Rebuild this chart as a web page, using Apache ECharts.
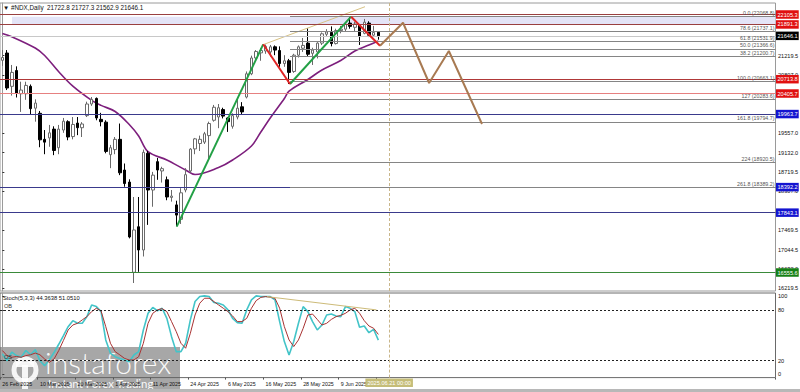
<!DOCTYPE html>
<html><head><meta charset="utf-8">
<script src="https://cdn.jsdelivr.net/npm/echarts@6/dist/echarts.min.js"></script>
<style>html,body{margin:0;padding:0;background:#fff;overflow:hidden}#c{width:800px;height:392px}</style>
</head><body><div id="c"></div>
<script>
// ---------- DATA ----------
const dates = ['26 Feb 2025','27 Feb 2025','28 Feb 2025','3 Mar 2025','4 Mar 2025','5 Mar 2025','6 Mar 2025','7 Mar 2025','10 Mar 2025','11 Mar 2025','12 Mar 2025','13 Mar 2025','14 Mar 2025','17 Mar 2025','18 Mar 2025','19 Mar 2025','20 Mar 2025','21 Mar 2025','24 Mar 2025','25 Mar 2025','26 Mar 2025','27 Mar 2025','28 Mar 2025','31 Mar 2025','1 Apr 2025','2 Apr 2025','3 Apr 2025','4 Apr 2025','7 Apr 2025','8 Apr 2025','9 Apr 2025','10 Apr 2025','11 Apr 2025','14 Apr 2025','15 Apr 2025','16 Apr 2025','17 Apr 2025','21 Apr 2025','22 Apr 2025','23 Apr 2025','24 Apr 2025','25 Apr 2025','28 Apr 2025','29 Apr 2025','30 Apr 2025','1 May 2025','2 May 2025','5 May 2025','6 May 2025','7 May 2025','8 May 2025','9 May 2025','12 May 2025','13 May 2025','14 May 2025','15 May 2025','16 May 2025','19 May 2025','20 May 2025','21 May 2025','22 May 2025','23 May 2025','26 May 2025','27 May 2025','28 May 2025','29 May 2025','30 May 2025','2 Jun 2025','3 Jun 2025','4 Jun 2025','5 Jun 2025','6 Jun 2025','9 Jun 2025','10 Jun 2025','11 Jun 2025','12 Jun 2025','13 Jun 2025','16 Jun 2025','17 Jun 2025','18 Jun 2025','20 Jun 2025'];
const openV  = [21120,21277,20560,20900,20400,20400,20560,20090,19980,19420,19450,19640,19240,19620,19800,19480,19770,19670,19930,20180,20300,19850,19790,19090,19200,19420,18760,18500,16560,17540,17040,19120,18330,18940,18740,18550,18170,18010,17700,18330,18740,19214,19330,19360,19500,19830,19900,20060,19880,19700,19900,20120,20330,20830,21170,21280,21320,21300,21410,21330,21050,21110,20880,21230,21380,21490,21270,21300,21490,21680,21720,21480,21760,21790,21920,21830,21880,21700,21920,21660,21722.8];
const highV  = [21340,21340,21020,20990,20660,20660,20600,20280,20030,19620,19730,19700,19730,19880,19830,19900,19900,19790,20230,20330,20320,19990,19830,19300,19470,19760,18900,18560,18180,18180,19200,19170,18720,19020,18830,18620,18330,18100,18370,18800,19230,19450,19500,19580,19800,20160,20180,20100,19900,19980,20270,20220,20880,21220,21340,21380,21460,21450,21440,21420,21230,21150,21260,21440,21600,21810,21390,21510,21720,21790,21850,21800,21860,21930,22068.8,21950,21900,22010,21960,21860,21727.3];
const lowV   = [21000,20480,20360,20320,20010,20270,19960,19800,19250,19100,19260,19080,19100,19560,19400,19420,19510,19470,19900,20140,19830,19700,19120,18800,19100,18650,18400,17290,16330,16570,16900,17580,17970,18550,18490,18110,18080,17550,17600,18280,18700,19100,19170,19320,19000,19800,19660,19870,19580,19650,19850,19950,20300,20800,21120,21110,21260,21200,21230,20980,20980,20610,20850,21180,21300,21200,21020,21160,21450,21640,21420,21460,21700,21740,21800,21740,21450,21680,21620,21620,21562.9];
const closeV = [21180,20524,20860,20410,20480,20580,20080,20200,19410,19360,19560,19180,19640,19810,19470,19740,19670,19750,20180,20280,19880,19800,19160,19240,19420,18700,18470,17320,17470,17040,19140,18330,18650,18760,18790,18180,18200,17790,18270,18660,19210,19430,19420,19540,19760,20110,20100,19920,19800,19930,20090,20010,20830,21170,21310,21330,21420,21410,21340,21050,21110,20860,21230,21410,21440,21250,21340,21490,21690,21730,21480,21760,21790,21900,21850,21900,21630,21940,21660,21720,21646.1];
// moving average, read at selected bars
const maBars   = [0,2,7,9,12,15,19,21,24,27,29,31,35,39,41,46,49,53,55,57,60,61,65,68,72,75,78,80];
const maValues = [21697,21628,21384,21223,20873,20563,20258,20150,20019,19739,19492,19154,18976,18760,18664,18814,18976,19277,19578,19879,20298,20455,20707,20912,21116,21320,21449,21535];
// Stochastic (5,3,3)
const stochK = [28,20,30,26,24,32,27,33,20,14,21,29.6,39.4,49.6,60.2,67.3,64.2,64.2,72.1,85.9,83.9,78,44.5,28.7,24.7,22.7,20.8,18.8,26.7,30.7,56.3,76,83,79,82,70,48.4,30.7,30.7,40.6,68.2,89.9,95.8,96.6,95.8,88.7,87.9,85.9,80,70,65,64.2,80,91.8,96.6,95.8,95.8,95.8,91.8,66.2,42.6,26.8,42.6,64.2,83.9,78,66.2,56.3,62.2,74,75.1,72.8,72,83.9,81.9,78,59.4,61,53.1,57,44.3638];
const stochD = [32,26,24,25,24,26,27,29,27,22,18,22,32,44,56.3,62.2,64.2,68.2,72.1,78,82,78.8,60.2,40.6,30.7,26.8,22.7,20.8,20.8,24.7,40.6,64.2,76,80,81.5,78,66.2,54.3,40.6,34.7,52.4,74,87.9,93.8,93.8,89.9,85.9,82,78,72.8,66.2,66.2,70.1,82,91,94.8,95.8,95,93.8,82,60.2,44.5,36.7,44.5,58.2,74,75.1,68.8,62.2,64.2,68.8,72,73.6,76,80,82,76,67.3,61,58.3,51.051];
// axis tick labels
const priceTicks = [21219.5,20807.0,19557.0,19132.0,18719.5,18307.0,17469.5,17044.5,16632.0,16219.5];
const stochTickLabels = ['100','80','20','0'];
const stochTickPos = [96,80,20,4];
const stochLevels = [80,20];
// horizontal levels with price tags
const levelValues = [22105.3,21891.3,21646.1,20713.8,20405.7,19963.7,18392.2,17843.1,16555.6];
// fibonacci
const fibNames  = ['0.0','78.6','61.8','50.0','38.2','100.0','127','161.8','224','261.8'];
const fibValues = [22068.8,21737.1,21531.9,21366.6,21200.7,20663.1,20283.6,19794.7,18920.5,18389.2];
const fibStartBar = 61.2;
// drawn objects (bar position, price)
const greenLeg1 = [[37.1,17541],[55.5,21464]];
const redLeg1   = [[55.5,21464],[61.2,20610]];
const greenLeg2 = [[61.2,20610],[74.2,22058]];
const redLeg2   = [[74.2,22058],[80.35,21434]];
const projection = [[80.35,21434],[85.25,21928],[90.8,20632],[95.0,21320],[102.05,19750]];
const divergencePrice = [[55.67,21464],[77.16,22273]];
const divergenceStoch = [[56.3,95.7],[79.6,80]];
const bandZone = [[2.05,22058],[164.5,21894]];
const cursorBar = 82.3;
const cursorLabel = '2025.06.21 00:00';
const symbolName = '#NDX,Daily';
const stochName = 'Stoch(5,3,3)';

// ---------- LAYOUT ----------
const NB = 165;
const cats = dates.concat(Array(NB - dates.length).fill(''));
const candleData = dates.map((d,i)=>[openV[i], closeV[i], lowV[i], highV[i]]);
const maSeries = cats.map(()=>null);
maBars.forEach((b,j)=>{ maSeries[b] = maValues[j]; });
const FONT = "'Liberation Sans',Arial,sans-serif";
const levelLine = ['#9a4040','#9a4040','#c8c8c8','#b03838','#e68080','#3a3a8c','#3a3a8c','#3a3a8c','#3a8a3a'];
const levelTag  = ['#e01010','#e01010','#000000','#e01010','#e01010','#1414d0','#1414d0','#1414d0','#158015'];

const levelMarks = levelValues.map((v,i)=>({
  yAxis: v,
  lineStyle: {color: levelLine[i], width: 1, type: 'solid'},
  label: {show: true, position: 'end', distance: 0.5, formatter: v.toFixed(1), color: '#fff',
          backgroundColor: levelTag[i], padding: [1.5,1,1,1.5], fontSize: 5.6, fontFamily: FONT}
}));
const fibMarks = fibValues.map((v,i)=>[
  {coord: [fibStartBar, v], lineStyle: {color: '#858585', width: 1, type: 'solid'},
   label: {show: true, position: 'insideEndTop', distance: 1, formatter: fibNames[i] + ' (' + v.toFixed(1) + ')',
           color: '#555', fontSize: 5.3, fontFamily: FONT}},
  {coord: [NB - 0.5, v]}
]);

function drawLine(data, color, width, z){
  return {type: 'line', xAxisIndex: 1, yAxisIndex: 0, data: data, symbol: 'none', silent: true,
          lineStyle: {color: color, width: width}, z: z};
}

const last = dates.length - 1;
const option = {
  animation: false,
  backgroundColor: '#ffffff',
  textStyle: {fontFamily: FONT},
  grid: [
    {left: 0, top: 3, width: 775.5, height: 288, show: true, borderColor: '#9a9a9a', borderWidth: 1, outerBoundsMode: 'none'},
    {left: 0, top: 293, width: 775.5, height: 84.6, show: true, borderColor: '#6a6a6a', borderWidth: 1, outerBoundsMode: 'none'}
  ],
  xAxis: [
    {type: 'category', gridIndex: 0, data: cats, boundaryGap: true, show: false},
    {type: 'value', gridIndex: 0, min: -0.5, max: NB - 0.5, show: false},
    {type: 'category', gridIndex: 1, data: cats, boundaryGap: true,
     axisLine: {show: false},
     axisTick: {show: true, length: 2, lineStyle: {color: '#555'}, interval: (i)=> i < dates.length && i % 8 === 0},
     axisLabel: {interval: (i)=> i < dates.length && i % 8 === 0, align: 'left', margin: 4,
                 fontSize: 5.3, color: '#111', fontFamily: FONT},
     splitLine: {show: false}},
    {type: 'value', gridIndex: 1, min: -0.5, max: NB - 0.5, show: false}
  ],
  yAxis: [
    {type: 'value', gridIndex: 0, position: 'right', min: 16157.7, max: 22352.7,
     splitLine: {show: false},
     axisLine: {show: true, lineStyle: {color: '#9a9a9a'}},
     axisTick: {show: true, length: 2, customValues: priceTicks, lineStyle: {color: '#333'}},
     axisLabel: {customValues: priceTicks, formatter: (v)=> v.toFixed(1), fontSize: 5.6, color: '#111', margin: 2.5, fontFamily: FONT}},
    {type: 'value', gridIndex: 1, position: 'right', min: 0, max: 100,
     splitLine: {show: false},
     axisLine: {show: true, lineStyle: {color: '#9a9a9a'}},
     axisTick: {show: true, length: 2, customValues: stochTickPos, lineStyle: {color: '#333'}},
     axisLabel: {customValues: stochTickPos, formatter: (v)=> stochTickLabels[stochTickPos.indexOf(v)], fontSize: 5.6, color: '#111', margin: 2.5, fontFamily: FONT}}
  ],
  series: [
    {type: 'line', name: 'levels', xAxisIndex: 1, yAxisIndex: 0, data: [], z: 1, silent: true,
     markArea: {silent: true, itemStyle: {color: '#e4e4f7'},
                data: [[{coord: bandZone[0]}, {coord: bandZone[1]}]]},
     markLine: {silent: true, symbol: ['none','none'], animation: false,
                data: levelMarks.concat(fibMarks).concat([
                  {xAxis: cursorBar, lineStyle: {color: '#c9b68a', type: [3,2], width: 1}, label: {show: false}}
                ])}},
    {type: 'candlestick', xAxisIndex: 0, yAxisIndex: 0, data: candleData, barWidth: 3, z: 3, silent: true,
     itemStyle: {color: '#ffffff', color0: '#000000', borderColor: '#6a6a6a', borderColor0: '#000000', borderWidth: 1}},
    {type: 'line', xAxisIndex: 0, yAxisIndex: 0, data: maSeries, connectNulls: true, smooth: 0.35,
     symbol: 'none', silent: true, lineStyle: {color: '#7d1f7d', width: 1.6}, z: 2},
    drawLine(divergencePrice, '#d8c284', 1, 4),
    drawLine(greenLeg1, '#22a045', 2, 5),
    drawLine(greenLeg2, '#22a045', 2, 5),
    drawLine(redLeg1, '#e02424', 2, 5),
    drawLine(redLeg2, '#e02424', 2, 5),
    drawLine(projection, '#a87a52', 2, 5),
    // stochastic pane
    {type: 'line', xAxisIndex: 2, yAxisIndex: 1, data: stochK, symbol: 'none', silent: true,
     lineStyle: {color: '#43c4c8', width: 1.6}, z: 3,
     markLine: {silent: true, symbol: ['none','none'],
                data: stochLevels.map(v=>({yAxis: v, lineStyle: {color: '#222', type: [2,2], width: 1}, label: {show: false}}))}},
    {type: 'line', xAxisIndex: 2, yAxisIndex: 1, data: stochD, symbol: 'none', silent: true,
     lineStyle: {color: '#a83232', width: 1}, z: 4},
    {type: 'line', xAxisIndex: 3, yAxisIndex: 1, data: divergenceStoch, symbol: 'none', silent: true,
     lineStyle: {color: '#cdbb78', width: 1}, z: 5,
     markLine: {silent: true, symbol: ['none','none'],
                data: [{xAxis: cursorBar, lineStyle: {color: '#c9b68a', type: [3,2], width: 1},
                        label: {show: true, position: 'start', distance: 1, formatter: cursorLabel, color: '#fff',
                                backgroundColor: '#c5bd78', padding: [1.5,2,1,2], fontSize: 5.6, fontFamily: FONT}}]}}
  ],
  graphic: [
    {type: 'text', x: 3, y: 4, z: 50, silent: true,
     style: {text: '\u25BC ' + symbolName + '  ' + [openV[last], highV[last], lowV[last], closeV[last]].map(v=>v.toFixed(1)).join(' '),
             fontSize: 6.3, fill: '#111', fontFamily: FONT}},
    {type: 'text', x: 3, y: 294.5, z: 50, silent: true,
     style: {text: stochName + ' ' + stochK[last].toFixed(4) + ' ' + stochD[last].toFixed(4), fontSize: 5.8, fill: '#111', fontFamily: FONT}},
    {type: 'text', x: 4, y: 303, z: 50, silent: true, style: {text: 'OB', fontSize: 5.6, fill: '#333', fontFamily: FONT}},
    {type: 'text', x: 4, y: 354, z: 50, silent: true, style: {text: 'OS', fontSize: 5.6, fill: '#333', fontFamily: FONT}},
    // bottom frame
    {type: 'rect', z: 40, silent: true, shape: {x: 0, y: 389, width: 800, height: 3}, style: {fill: '#b8b8b8'}},
    // watermark
    {type: 'group', z: 100, silent: true, children: [
      {type: 'rect', shape: {x: 0, y: 347, width: 180, height: 45}, style: {fill: 'rgba(95,95,95,0.55)'}},
      {type: 'circle', shape: {cx: 25, cy: 370, r: 11}, style: {fill: 'none', stroke: 'rgba(255,255,255,0.9)', lineWidth: 5}},
      {type: 'rect', shape: {x: 22, y: 365, width: 6, height: 27}, style: {fill: 'rgba(255,255,255,0.9)'}},
      {type: 'rect', shape: {x: 16, y: 362, width: 18, height: 5}, style: {fill: 'rgba(255,255,255,0.9)'}},
      {type: 'text', x: 45, y: 347, style: {text: 'instaforex', fontSize: 30, fontWeight: 300, fill: 'rgba(255,255,255,0.95)', fontFamily: 'Lato, "Open Sans", sans-serif'}},
      {type: 'text', x: 48, y: 377, style: {text: 'Instant Forex Trading', fontSize: 11.5, fill: 'rgba(255,255,255,0.95)', fontFamily: 'Lato, "Open Sans", sans-serif'}}
    ]}
  ]
};
const chart = echarts.init(document.getElementById('c'), null, {renderer: 'svg', width: 800, height: 392});
chart.setOption(option);
</script>
</body></html>
